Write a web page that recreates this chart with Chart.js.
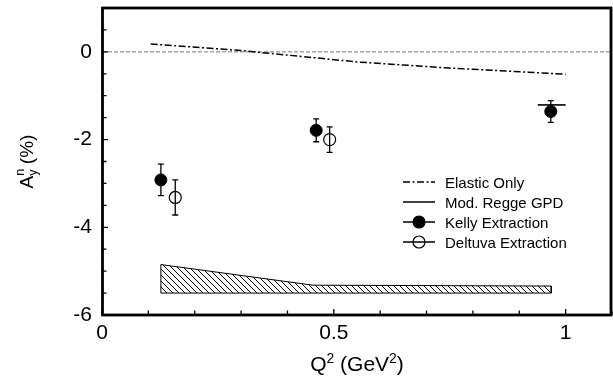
<!DOCTYPE html>
<html>
<head>
<meta charset="utf-8">
<script src="https://cdn.jsdelivr.net/npm/chart.js@4/dist/chart.umd.min.js"></script>
<style>
html, body { margin: 0; padding: 0; background: #fff; overflow: hidden; }
canvas { display: block; }
</style>
</head>
<body>
<canvas id="chart" width="613" height="378"></canvas>
<script>
// axis ticks
var xTicks = [0, 0.5, 1];
var xTickLabels = ['0', '0.5', '1'];
var yTicks = [-6, -4, -2, 0];
var yTickLabels = ['-6', '-4', '-2', '0'];

var seriesLabels = ['Elastic Only', 'Mod. Regge GPD', 'Kelly Extraction', 'Deltuva Extraction'];

// Elastic only curve
var elasticQ2 = [0.105, 0.3, 0.55, 0.75, 1.0];
var elasticAy = [0.18, 0.03, -0.23, -0.37, -0.51];

// Mod. Regge GPD
var reggeQ2 = [0.94, 1.0];
var reggeAy = [-1.21, -1.21];

// extractions with errors
var kellyQ2 = [0.127, 0.462, 0.968];
var kellyAy = [-2.92, -1.79, -1.36];
var kellyErr = [0.36, 0.26, 0.25];

var deltuvaQ2 = [0.158, 0.491];
var deltuvaAy = [-3.32, -2.0];
var deltuvaErr = [0.40, 0.29];

// systematic band (closed outline)
var systQ2 = [0.127, 0.127, 0.455, 0.969, 0.969, 0.127];
var systAy = [-5.5, -4.85, -5.32, -5.34, -5.5, -5.5];

// zero reference
var zeroQ2 = [0, 1.1];
var zeroAy = [0, 0];

var FONT = "'Liberation Sans', Arial, sans-serif";

function pts(xs, ys) {
    return xs.map(function (x, i) { return {x: x, y: ys[i]}; });
}

function hatchPattern() {
    var c = document.createElement('canvas');
    c.width = 6;
    c.height = 6;
    var g = c.getContext('2d');
    g.strokeStyle = '#000';
    g.lineWidth = 1;
    g.beginPath();
    g.moveTo(-1, -1); g.lineTo(7, 7);
    g.moveTo(-1, 5); g.lineTo(1, 7);
    g.moveTo(5, -1); g.lineTo(7, 1);
    g.stroke();
    return g.createPattern(c, 'repeat');
}

function noPad(s) {
    s.paddingTop = 0;
    s.paddingBottom = 0;
    s.paddingLeft = 0;
    s.paddingRight = 0;
}

// error bars from the dataset's errors array
var errorBarPlugin = {
    id: 'errorBars',
    beforeDatasetsDraw: function (chart) {
        var ctx = chart.ctx;
        var xs = chart.scales.x, ys = chart.scales.y;
        ctx.save();
        ctx.strokeStyle = '#000';
        ctx.lineWidth = 1.3;
        chart.data.datasets.forEach(function (ds) {
            if (!ds.errors) return;
            ds.data.forEach(function (p, i) {
                var px = xs.getPixelForValue(p.x);
                var top = ys.getPixelForValue(p.y + ds.errors[i]);
                var bot = ys.getPixelForValue(p.y - ds.errors[i]);
                ctx.beginPath();
                ctx.moveTo(px, top); ctx.lineTo(px, bot);
                ctx.moveTo(px - 3, top); ctx.lineTo(px + 3, top);
                ctx.moveTo(px - 3, bot); ctx.lineTo(px + 3, bot);
                ctx.stroke();
            });
        });
        ctx.restore();
    }
};

// frame with inward ticks
var framePlugin = {
    id: 'frame',
    afterDatasetsDraw: function (chart) {
        var ctx = chart.ctx, a = chart.chartArea;
        var xs = chart.scales.x, ys = chart.scales.y;
        ctx.save();
        ctx.strokeStyle = '#000';
        ctx.lineWidth = 1.3;
        ctx.beginPath();
        var v, p, len;
        for (var i = 0; i <= 11; i++) {
            v = i / 10;
            p = xs.getPixelForValue(v);
            len = (i % 5 === 0) ? 6 : 4.5;
            ctx.moveTo(p, a.bottom); ctx.lineTo(p, a.bottom - len);
        }
        for (var j = 0; j <= 14; j++) {
            v = -6 + j * 0.5;
            p = ys.getPixelForValue(v);
            len = (j % 4 === 0) ? 6 : 4.5;
            ctx.moveTo(a.left, p); ctx.lineTo(a.left + len, p);
        }
        ctx.stroke();
        ctx.lineWidth = 2.8;
        ctx.strokeRect(a.left + 0.5, a.top, a.right - a.left - 1.5, a.bottom - a.top);
        ctx.restore();
    }
};

function drawParts(ctx, parts, x, y, size, align) {
    var w = 0;
    var widths = parts.map(function (pt) {
        ctx.font = (pt.s ? size * 0.66 : size) + 'px ' + FONT;
        return pt.z ? 0 : ctx.measureText(pt.t).width;
    });
    widths.forEach(function (ww) { w += ww; });
    var cx = align === 'center' ? x - w / 2 : x;
    parts.forEach(function (pt, i) {
        ctx.font = (pt.s ? size * 0.66 : size) + 'px ' + FONT;
        ctx.fillText(pt.t, cx, y + (pt.dy || 0));
        cx += widths[i];
    });
}

var titlePlugin = {
    id: 'titles',
    afterDraw: function (chart) {
        var ctx = chart.ctx, a = chart.chartArea;
        ctx.save();
        ctx.fillStyle = '#000';
        ctx.textBaseline = 'alphabetic';
        ctx.textAlign = 'left';
        drawParts(ctx, [
            {t: 'Q'}, {t: '2', s: 1, dy: -8}, {t: ' (GeV'}, {t: '2', s: 1, dy: -8}, {t: ')'}
        ], (a.left + a.right) / 2, 371, 21, 'center');
        ctx.translate(33, (a.top + a.bottom) / 2);
        ctx.rotate(-Math.PI / 2);
        drawParts(ctx, [
            {t: 'A'}, {t: 'n', s: 1, dy: -9, z: 1}, {t: 'y', s: 1, dy: 4}, {t: ' (%)'}
        ], 0, 0, 19, 'center');
        ctx.restore();
    }
};

var legendPlugin = {
    id: 'legendBox',
    afterDraw: function (chart) {
        var ctx = chart.ctx;
        var rows = [
            {label: seriesLabels[0], dash: [7, 2.5, 2, 2.5]},
            {label: seriesLabels[1], dash: []},
            {label: seriesLabels[2], dash: [], dot: 'fill'},
            {label: seriesLabels[3], dash: [], dot: 'open'}
        ];
        ctx.save();
        ctx.fillStyle = '#000';
        ctx.strokeStyle = '#000';
        ctx.font = '15px ' + FONT;
        ctx.textBaseline = 'alphabetic';
        rows.forEach(function (r, i) {
            var base = 187.5 + i * 20;
            var ly = base - 5.5;
            ctx.lineWidth = 1.5;
            ctx.setLineDash(r.dash);
            ctx.beginPath();
            ctx.moveTo(403, ly); ctx.lineTo(435, ly);
            ctx.stroke();
            ctx.setLineDash([]);
            if (r.dot) {
                ctx.beginPath();
                ctx.arc(419, ly, 6, 0, Math.PI * 2);
                if (r.dot === 'fill') ctx.fill();
                ctx.lineWidth = 1.2;
                ctx.stroke();
            }
            ctx.fillText(r.label, 445, base);
        });
        ctx.restore();
    }
};

var config = {
    type: 'line',
    data: {
        datasets: [
            {
                label: seriesLabels[2],
                data: pts(kellyQ2, kellyAy),
                errors: kellyErr,
                showLine: false,
                pointRadius: 6,
                pointBackgroundColor: '#000',
                pointBorderColor: '#000',
                pointBorderWidth: 1,
                order: 1
            },
            {
                label: seriesLabels[3],
                data: pts(deltuvaQ2, deltuvaAy),
                errors: deltuvaErr,
                showLine: false,
                pointRadius: 6,
                pointBackgroundColor: 'rgba(0,0,0,0)',
                pointBorderColor: '#000',
                pointBorderWidth: 1.2,
                order: 2
            },
            {
                label: seriesLabels[0],
                data: pts(elasticQ2, elasticAy),
                borderColor: '#000',
                borderWidth: 1.5,
                borderDash: [7, 2.5, 2, 2.5],
                pointRadius: 0,
                fill: false,
                order: 3
            },
            {
                label: seriesLabels[1],
                data: pts(reggeQ2, reggeAy),
                borderColor: '#000',
                borderWidth: 1.6,
                pointRadius: 0,
                fill: false,
                order: 4
            },
            {
                label: 'zero',
                data: pts(zeroQ2, zeroAy),
                borderColor: '#777',
                borderWidth: 1,
                borderDash: [4, 2],
                pointRadius: 0,
                fill: false,
                order: 5
            },
            {
                label: 'syst',
                data: pts(systQ2, systAy),
                borderColor: '#000',
                borderWidth: 1,
                backgroundColor: hatchPattern(),
                pointRadius: 0,
                fill: 'shape',
                order: 6
            }
        ]
    },
    options: {
        responsive: false,
        animation: false,
        events: [],
        layout: { autoPadding: false, padding: { top: 8, right: 1, left: 0, bottom: 0 } },
        elements: { line: { tension: 0 } },
        scales: {
            x: {
                type: 'linear',
                min: 0,
                max: 1.1,
                afterBuildTicks: function (s) { s.ticks = xTicks.map(function (v) { return {value: v}; }); },
                afterFit: function (s) { s.height = 63; noPad(s); },
                ticks: {
                    autoSkip: false,
                    maxRotation: 0,
                    padding: 6,
                    color: '#000',
                    font: { family: FONT, size: 21 },
                    callback: function (v) { return xTickLabels[xTicks.indexOf(v)]; }
                },
                grid: { display: false, drawTicks: false },
                border: { display: false }
            },
            y: {
                type: 'linear',
                min: -6,
                max: 1,
                afterBuildTicks: function (s) { s.ticks = yTicks.map(function (v) { return {value: v}; }); },
                afterFit: function (s) { s.width = 102; noPad(s); },
                ticks: {
                    autoSkip: false,
                    padding: 10,
                    color: '#000',
                    font: { family: FONT, size: 21 },
                    callback: function (v) { return yTickLabels[yTicks.indexOf(v)]; }
                },
                grid: { display: false, drawTicks: false },
                border: { display: false }
            }
        },
        plugins: {
            legend: { display: false },
            tooltip: { enabled: false }
        }
    },
    plugins: [errorBarPlugin, framePlugin, titlePlugin, legendPlugin]
};

window.myChart = new Chart(document.getElementById('chart').getContext('2d'), config);
</script>
</body>
</html>
